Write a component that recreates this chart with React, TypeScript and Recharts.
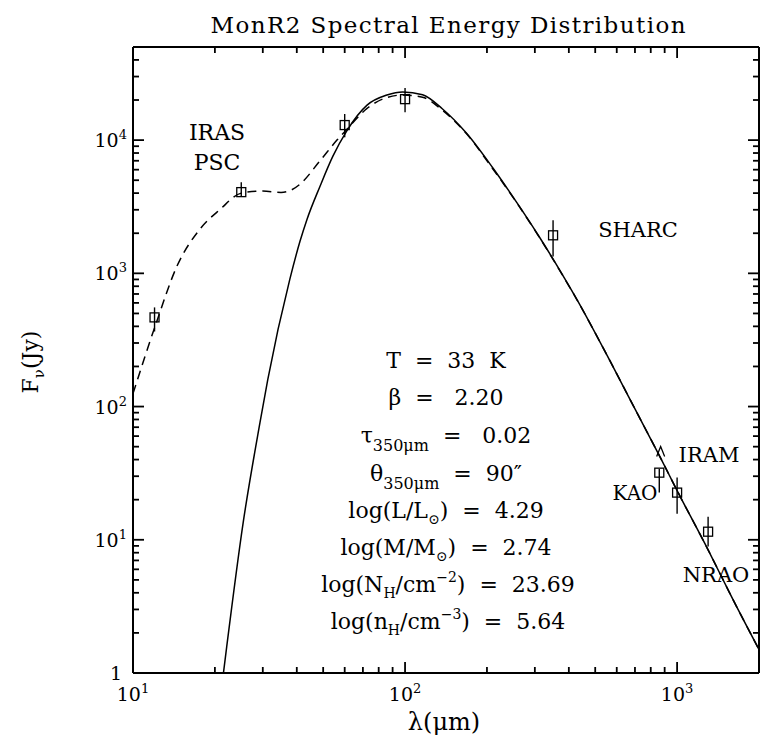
import React from 'react';
import { ComposedChart, Line, Scatter, XAxis, YAxis, ErrorBar, ReferenceLine } from 'recharts';

// Greybody model (solid): wavelength (micron) and flux (Jy)
const solidLambda = [21.5, 22.1, 25.4, 29.3, 31.3, 37.7, 41.1, 43.6, 48.7, 54.3, 61, 72.5, 85.8, 98, 116, 137, 168, 210, 258, 313, 382, 428, 568, 700, 870, 1000, 1300, 1600, 2000];
const solidFlux = [1, 1.57, 13.4, 76, 160, 900, 1740, 2540, 4510, 7580, 11700, 18300, 21800, 23000, 21900, 17200, 11300, 6200, 3380, 1850, 950, 638, 218, 96, 41, 23.4, 8.4, 3.6, 1.5];

// Two-component model (dashed)
const dashedLambda = [10, 12.2, 14.5, 17.6, 20.9, 25, 30, 35, 38, 41.1, 48.7, 56.2, 61, 72.5, 85.8, 98, 116, 137, 168, 210, 258, 313, 382, 428, 568, 700, 870, 1000, 1300, 1600, 2000];
const dashedFlux = [125, 430, 1130, 2140, 3020, 4000, 4150, 4050, 4200, 4670, 7000, 10000, 12000, 17300, 20900, 21800, 21000, 16800, 11200, 6100, 3360, 1840, 945, 636, 218, 96, 41, 23.4, 8.4, 3.6, 1.5];

// Measurements
const pointLambda = [12, 25, 60, 100, 350, 860, 1000, 1300];
const pointFlux = [467, 4070, 12970, 20300, 1930, 31.9, 22.6, 11.5];
const pointLow = [366, 3790, 10500, 16200, 1340, 22.6, 15.7, 8.9];
const pointHigh = [555, 4830, 15700, 24600, 2500, 34, 29.3, 14.9];

// Limit (IRAM)
const limitLambda = [870];
const limitFlux = [46];

// Axis ticks
const xMin = 10, xMax = 2000, yMin = 1, yMax = 50000;
const xTicks = [10, 20, 30, 40, 50, 60, 70, 80, 90, 100, 200, 300, 400, 500, 600, 700, 800, 900, 1000];
const xMajor = [10, 100, 1000];
const xExponents = ['1', '2', '3'];
const yTicks = [1, 2, 3, 4, 5, 6, 7, 8, 9, 10, 20, 30, 40, 50, 60, 70, 80, 90, 100, 200, 300, 400, 500, 600, 700, 800, 900, 1000, 2000, 3000, 4000, 5000, 6000, 7000, 8000, 9000, 10000, 20000, 30000, 40000];
const yMajor = [1, 10, 100, 1000, 10000];
const yExponents = ['', '1', '2', '3', '4'];

const FONT = '"DejaVu Serif", "Liberation Serif", serif';
const axisStyle = { stroke: '#000', strokeWidth: 2 };

// plot box size (layout only)
const PLOT_W = 626;
const PLOT_H = 626;

function BottomTick(props: any) {
  const { x, y, payload } = props;
  const i = xMajor.indexOf(payload.value);
  const len = i >= 0 ? 11 : 6;
  return (
    <g>
      <line x1={x} y1={y} x2={x} y2={y - len} stroke="#000" strokeWidth={1.8} />
      <line x1={x} y1={y - PLOT_H} x2={x} y2={y - PLOT_H + len} stroke="#000" strokeWidth={1.8} />
      {i >= 0 ? (
        <text x={x} y={y + 28} textAnchor="middle" fontFamily={FONT} fontSize={19} fill="#000">
          10<tspan dy={-8} fontSize={13}>{xExponents[i]}</tspan>
        </text>
      ) : null}
    </g>
  );
}

function LeftTick(props: any) {
  const { x, y, payload } = props;
  const i = yMajor.indexOf(payload.value);
  const len = i >= 0 ? 11 : 6;
  let label: any = null;
  if (i === 0) {
    label = <text x={x - 11} y={y + 7} textAnchor="end" fontFamily={FONT} fontSize={19} fill="#000">1</text>;
  } else if (i > 0) {
    label = (
      <text x={x - 6} y={y + 7} textAnchor="end" fontFamily={FONT} fontSize={19} fill="#000">
        10<tspan dy={-8} fontSize={13}>{yExponents[i]}</tspan>
      </text>
    );
  }
  return (
    <g>
      <line x1={x} y1={y} x2={x + len} y2={y} stroke="#000" strokeWidth={1.8} />
      <line x1={x + PLOT_W} y1={y} x2={x + PLOT_W - len} y2={y} stroke="#000" strokeWidth={1.8} />
      {label}
    </g>
  );
}

function SquareShape(props: any) {
  const { cx, cy } = props;
  if (cx == null || cy == null) return null;
  return <rect x={cx - 4.5} y={cy - 4.5} width={9} height={9} fill="none" stroke="#000" strokeWidth={1.3} />;
}

function CaretShape(props: any) {
  const { cx, cy } = props;
  if (cx == null || cy == null) return null;
  return (
    <path d={`M${cx - 4},${cy + 5} L${cx},${cy - 5} L${cx + 4},${cy + 5}`} fill="none" stroke="#000" strokeWidth={1.3} />
  );
}

export default function App() {
  const solidData = solidLambda.map((x, i) => ({ x, f: solidFlux[i] }));
  const dashedData = dashedLambda.map((x, i) => ({ x, f: dashedFlux[i] }));
  const pointData = pointLambda.map((x, i) => ({
    x,
    f: pointFlux[i],
    err: [pointFlux[i] - pointLow[i], pointHigh[i] - pointFlux[i]],
  }));
  const limitData = limitLambda.map((x, i) => ({ x, f: limitFlux[i] }));

  const pre: any = { whiteSpace: 'pre' };

  return (
    <div style={{ position: 'absolute', left: 0, top: 0, width: 760, height: 739, background: '#fff' }}>
      <svg width={760} height={739} style={{ position: 'absolute', left: 0, top: 0 }}
        fontFamily={FONT} fill="#000">
        <text x={448} y={33} textAnchor="middle" fontSize={23} textLength={475} lengthAdjust="spacing">
          MonR2 Spectral Energy Distribution
        </text>
        <text x={444} y={730} textAnchor="middle" fontSize={24}>λ(μm)</text>
        <text transform="translate(38,362) rotate(-90)" textAnchor="middle" fontSize={22}>
          F<tspan dy={6} fontSize={15}>ν</tspan><tspan dy={-6}>(Jy)</tspan>
        </text>

        <text x={217} y={140} textAnchor="middle" fontSize={22}>IRAS</text>
        <text x={217} y={170} textAnchor="middle" fontSize={22}>PSC</text>
        <text x={638} y={237} textAnchor="middle" fontSize={21}>SHARC</text>
        <text x={709} y={462} textAnchor="middle" fontSize={21}>IRAM</text>
        <text x={635} y={500} textAnchor="middle" fontSize={20}>KAO</text>
        <text x={716} y={582} textAnchor="middle" fontSize={21}>NRAO</text>

        <g fontSize={22} textAnchor="middle" style={pre}>
          <text x={446} y={368} style={pre}>T  =  33  K</text>
          <text x={446} y={405} style={pre}>β  =   2.20</text>
          <text x={446} y={443} style={pre}>
            τ<tspan dy={8} fontSize={16}>350μm</tspan><tspan dy={-8}>  =   0.02</tspan>
          </text>
          <text x={446} y={481} style={pre}>
            θ<tspan dy={8} fontSize={16}>350μm</tspan><tspan dy={-8}>  =  90″</tspan>
          </text>
          <text x={446} y={518} style={pre}>
            log(L/L<tspan dy={6} fontSize={14}>⊙</tspan><tspan dy={-6}>)  =  4.29</tspan>
          </text>
          <text x={446} y={555} style={pre}>
            log(M/M<tspan dy={6} fontSize={14}>⊙</tspan><tspan dy={-6}>)  =  2.74</tspan>
          </text>
          <text x={448} y={592} style={pre}>
            log(N<tspan dy={6} fontSize={14}>H</tspan><tspan dy={-6}>/cm</tspan><tspan dy={-10} fontSize={14}>−2</tspan><tspan dy={10}>)  =  23.69</tspan>
          </text>
          <text x={448} y={629} style={pre}>
            log(n<tspan dy={6} fontSize={14}>H</tspan><tspan dy={-6}>/cm</tspan><tspan dy={-10} fontSize={14}>−3</tspan><tspan dy={10}>)  =  5.64</tspan>
          </text>
        </g>
      </svg>
      <div style={{ position: 'absolute', left: 0, top: 0 }}>
        <ComposedChart width={760} height={739} margin={{ top: 47, right: 1, bottom: 36, left: 63 }}>
          <XAxis xAxisId="b" type="number" dataKey="x" scale="log" domain={[xMin, xMax]} allowDataOverflow
            ticks={xTicks} interval={0} height={30} tickSize={0} tickMargin={0} tickLine={false}
            axisLine={axisStyle} tick={BottomTick} />
          <YAxis yAxisId="l" type="number" dataKey="f" scale="log" domain={[yMin, yMax]} allowDataOverflow
            ticks={yTicks} interval={0} width={70} tickSize={0} tickMargin={0} tickLine={false}
            axisLine={axisStyle} tick={LeftTick} />
          <ReferenceLine xAxisId="b" yAxisId="l" y={yMax} stroke="#000" strokeWidth={2} ifOverflow="visible" />
          <ReferenceLine xAxisId="b" yAxisId="l" x={xMax} stroke="#000" strokeWidth={2} ifOverflow="visible" />
          <Line xAxisId="b" yAxisId="l" data={dashedData} dataKey="f" type="monotone" stroke="#000"
            strokeWidth={1.5} strokeDasharray="9 6" dot={false} activeDot={false} isAnimationActive={false} />
          <Line xAxisId="b" yAxisId="l" data={solidData} dataKey="f" type="monotone" stroke="#000"
            strokeWidth={1.5} dot={false} activeDot={false} isAnimationActive={false} />
          <Scatter xAxisId="b" yAxisId="l" data={pointData} dataKey="f" shape={SquareShape} isAnimationActive={false}>
            <ErrorBar dataKey="err" direction="y" width={0} stroke="#000" strokeWidth={1.4} isAnimationActive={false} />
          </Scatter>
          <Scatter xAxisId="b" yAxisId="l" data={limitData} dataKey="f" shape={CaretShape} isAnimationActive={false} />
        </ComposedChart>
      </div>
    </div>
  );
}
